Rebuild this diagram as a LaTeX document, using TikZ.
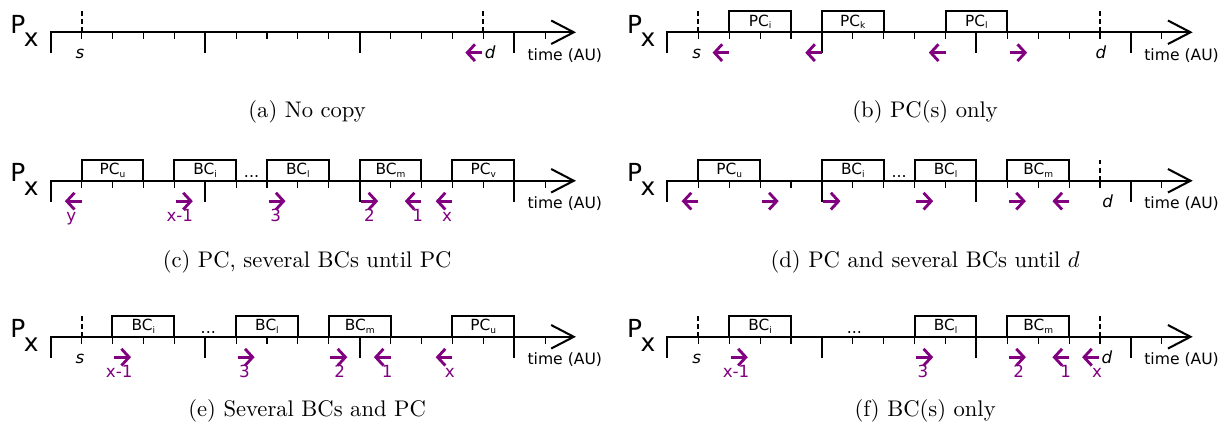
\documentclass[tikz,border=0pt]{standalone}
\usepackage{fontspec}
\newfontfamily\lblfont{DejaVu Sans}
\usetikzlibrary{arrows.meta}
\definecolor{copypurple}{RGB}{128,0,128}
\newcommand{\boxidx}[1]{\raisebox{-1.2pt}{\fontsize{4}{4}\selectfont #1}}

\begin{document}
\begin{tikzpicture}[
  x=13.67pt,
  y=13.67pt,
  axis line/.style={
    line width=0.9pt,
    -{Straight Barb[length=10pt,width=10.4pt]}
  },
  big tick/.style={line width=0.9pt},
  small tick/.style={line width=0.5pt},
  event line/.style={
    line width=0.9pt,
    dash pattern=on 2.2pt off 1.4pt
  },
  copy arrow/.style={
    draw=copypurple,
    line width=1.25pt,
    -{Straight Barb[length=3.4pt,width=7.4pt]}
  },
  copy label/.style={
    text=copypurple,
    font=\lblfont\fontsize{7.4}{9}\selectfont,
    inner sep=0pt,
    anchor=base
  },
  event label/.style={
    font=\lblfont\itshape\fontsize{7.4}{9}\selectfont,
    inner sep=0pt,
    anchor=base
  },
  axis label/.style={
    font=\lblfont\fontsize{6.9}{8}\selectfont,
    inner sep=0pt
  },
  proc label/.style={
    font=\lblfont\fontsize{11}{13}\selectfont,
    inner sep=0pt
  },
  copy box/.style={
    draw,
    line width=0.9pt,
    minimum width=27.34pt,
    minimum height=9.3pt,
    inner sep=0pt,
    outer sep=0pt,
    anchor=south west,
    font=\lblfont\fontsize{6.8}{7}\selectfont
  },
  gap dots/.style={
    font=\lblfont\fontsize{7}{8}\selectfont,
    inner sep=0pt,
    anchor=base
  },
  panel caption/.style={
    font=\fontsize{10}{12}\selectfont,
    inner sep=0pt
  },
  timeline/.pic={
    \draw[axis line] (0,-0.68) -- (0,0) -- (17,0);
    \foreach \k in {1,...,16}
      \draw[small tick] (\k,0) -- (\k,-0.23);
    \foreach \k in {5,10,15}
      \draw[big tick] (\k,0) -- (\k,-0.68);
    \node[proc label,anchor=base west] (-proc) at (-1.32,-0.03)
      {P\kern-0.6pt\raisebox{-5.9pt}{x}};
    \node[axis label,anchor=base west] (-time) at (15.42,-0.9) {time (AU)};
  }
]
\useasboundingbox (0,0) rectangle (39.45,-13.79);

% (a) no copy
\begin{scope}[shift={(1.64,-1.045)}]
  \pic (a) {timeline};
  \draw[event line] (1,0) -- (1,0.74);
  \draw[event line] (14,0) -- (14,0.74);
  \node[event label] (a-s) at (0.95,-0.86) {s};
  \node[event label,anchor=base west] (a-d) at (14.04,-0.86) {d};
  \draw[copy arrow] (13.96,-0.66) -- (13.42,-0.66);
\end{scope}

% (b) PC(s) only
\begin{scope}[shift={(21.6,-1.045)}]
  \pic (b) {timeline};
  \draw[event line] (1,0) -- (1,0.74);
  \draw[event line] (14,0) -- (14,0.74);
  \node[event label] (b-s) at (0.95,-0.86) {s};
  \node[event label] (b-d) at (14.03,-0.86) {d};
  \node[copy box] (b-pci) at (2,0) {PC\boxidx{i}};
  \node[copy box] (b-pck) at (5,0) {PC\boxidx{k}};
  \node[copy box] (b-pcl) at (9,0) {PC\boxidx{l}};
  \draw[copy arrow] (2,-0.66) -- (1.46,-0.66);
  \draw[copy arrow] (5,-0.66) -- (4.46,-0.66);
  \draw[copy arrow] (9,-0.66) -- (8.46,-0.66);
  \draw[copy arrow] (11.08,-0.66) -- (11.64,-0.66);
\end{scope}

% (c) PC, several BCs until PC
\begin{scope}[shift={(1.64,-5.85)}]
  \pic (c) {timeline};
  \node[copy box] (c-pcu) at (1,0) {PC\boxidx{u}};
  \node[copy box] (c-bci) at (4,0) {BC\boxidx{i}};
  \node[copy box] (c-bcl) at (7,0) {BC\boxidx{l}};
  \node[copy box] (c-bcm) at (10,0) {BC\boxidx{m}};
  \node[copy box] (c-pcv) at (13,0) {PC\boxidx{v}};
  \node[gap dots] (c-dots) at (6.5,0.12) {...};
  \draw[copy arrow] (1,-0.66) -- (0.46,-0.66);
  \draw[copy arrow] (4.05,-0.66) -- (4.6,-0.66);
  \draw[copy arrow] (7.05,-0.66) -- (7.6,-0.66);
  \draw[copy arrow] (10.05,-0.66) -- (10.6,-0.66);
  \draw[copy arrow] (12,-0.66) -- (11.46,-0.66);
  \draw[copy arrow] (13,-0.66) -- (12.46,-0.66);
  \node[copy label] (c-y) at (0.67,-1.31) {y};
  \node[copy label] (c-xm) at (4.18,-1.31) {x-1};
  \node[copy label] (c-three) at (7.28,-1.31) {3};
  \node[copy label] (c-two) at (10.32,-1.31) {2};
  \node[copy label] (c-one) at (11.88,-1.31) {1};
  \node[copy label] (c-x) at (12.83,-1.31) {x};
\end{scope}

% (d) PC and several BCs until d
\begin{scope}[shift={(21.6,-5.85)}]
  \pic (d) {timeline};
  \draw[event line] (14,0) -- (14,0.74);
  \node[event label] (d-d) at (14.25,-0.86) {d};
  \node[copy box] (d-pcu) at (1,0) {PC\boxidx{u}};
  \node[copy box] (d-bci) at (5,0) {BC\boxidx{i}};
  \node[copy box] (d-bcl) at (8,0) {BC\boxidx{l}};
  \node[copy box] (d-bcm) at (11,0) {BC\boxidx{m}};
  \node[gap dots] (d-dots) at (7.5,0.12) {...};
  \draw[copy arrow] (1,-0.66) -- (0.46,-0.66);
  \draw[copy arrow] (3.05,-0.66) -- (3.6,-0.66);
  \draw[copy arrow] (5.05,-0.66) -- (5.6,-0.66);
  \draw[copy arrow] (8.05,-0.66) -- (8.6,-0.66);
  \draw[copy arrow] (11.05,-0.66) -- (11.6,-0.66);
  \draw[copy arrow] (13,-0.66) -- (12.46,-0.66);
\end{scope}

% (e) several BCs and PC
\begin{scope}[shift={(1.64,-10.9)}]
  \pic (e) {timeline};
  \draw[event line] (1,0) -- (1,0.74);
  \node[event label] (e-s) at (0.95,-0.86) {s};
  \node[copy box] (e-bci) at (2,0) {BC\boxidx{i}};
  \node[copy box] (e-bcl) at (6,0) {BC\boxidx{l}};
  \node[copy box] (e-bcm) at (9,0) {BC\boxidx{m}};
  \node[copy box] (e-pcu) at (13,0) {PC\boxidx{u}};
  \node[gap dots] (e-dots) at (5.1,0.12) {...};
  \draw[copy arrow] (2.05,-0.66) -- (2.6,-0.66);
  \draw[copy arrow] (6.05,-0.66) -- (6.6,-0.66);
  \draw[copy arrow] (9.05,-0.66) -- (9.6,-0.66);
  \draw[copy arrow] (11,-0.66) -- (10.46,-0.66);
  \draw[copy arrow] (13,-0.66) -- (12.46,-0.66);
  \node[copy label] (e-xm) at (2.22,-1.31) {x-1};
  \node[copy label] (e-three) at (6.27,-1.31) {3};
  \node[copy label] (e-two) at (9.35,-1.31) {2};
  \node[copy label] (e-one) at (10.89,-1.31) {1};
  \node[copy label] (e-x) at (12.92,-1.31) {x};
\end{scope}

% (f) BC(s) only
\begin{scope}[shift={(21.6,-10.9)}]
  \pic (f) {timeline};
  \draw[event line] (1,0) -- (1,0.74);
  \draw[event line] (14,0) -- (14,0.74);
  \node[event label] (f-s) at (0.95,-0.86) {s};
  \node[event label,anchor=base west] (f-d) at (14.04,-0.86) {d};
  \node[copy box] (f-bci) at (2,0) {BC\boxidx{i}};
  \node[copy box] (f-bcl) at (8,0) {BC\boxidx{l}};
  \node[copy box] (f-bcm) at (11,0) {BC\boxidx{m}};
  \node[gap dots] (f-dots) at (6.05,0.12) {...};
  \draw[copy arrow] (2.05,-0.66) -- (2.6,-0.66);
  \draw[copy arrow] (8.05,-0.66) -- (8.6,-0.66);
  \draw[copy arrow] (11.05,-0.66) -- (11.6,-0.66);
  \draw[copy arrow] (13,-0.66) -- (12.46,-0.66);
  \draw[copy arrow] (13.96,-0.66) -- (13.42,-0.66);
  \node[copy label] (f-xm) at (2.22,-1.31) {x-1};
  \node[copy label] (f-three) at (8.27,-1.31) {3};
  \node[copy label] (f-two) at (11.37,-1.31) {2};
  \node[copy label] (f-one) at (12.89,-1.31) {1};
  \node[copy label] (f-x) at (13.9,-1.31) {x};
\end{scope}

% captions
\node[panel caption] (cap-a) at (9.94,-3.62) {(a) No copy};
\node[panel caption] (cap-b) at (29.94,-3.62) {(b) PC(s) only};
\node[panel caption] (cap-c) at (9.94,-8.48) {(c) PC, several BCs until PC};
\node[panel caption] (cap-d) at (29.94,-8.48) {(d) PC and several BCs until $d$};
\node[panel caption] (cap-e) at (9.94,-13.3) {(e) Several BCs and PC};
\node[panel caption] (cap-f) at (29.94,-13.3) {(f) BC(s) only};

\end{tikzpicture}
\end{document}
